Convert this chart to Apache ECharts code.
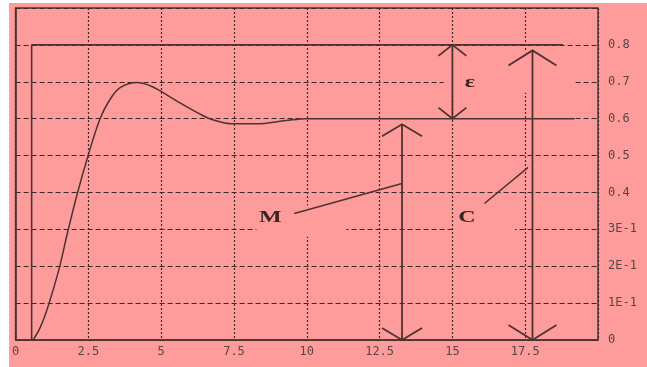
<!DOCTYPE html>
<html>
<head>
<meta charset="utf-8">
<script src="https://cdn.jsdelivr.net/npm/echarts@6/dist/echarts.min.js"></script>
<style>
  html, body { margin: 0; padding: 0; background: #ffffff; }
  #chart { position: absolute; left: 9px; top: 3px; width: 638px; height: 364px; background: #fe9c9c; }
</style>
</head>
<body>
<div id="chart"></div>
<script>
// Step input: jumps to 0.8 shortly after t = 0
const stepT = [0.55, 0.55, 18.8];
const stepV = [0, 0.8, 0.8];

// Step response: overshoot near t = 4, settles at 0.6
const respT = [0.6, 0.85, 1.13, 1.5, 1.78, 2.12, 2.49, 2.9, 3.24, 3.59, 4.17, 4.6, 4.95, 5.64, 6.32, 6.77, 7.45, 8.27, 9.29, 9.97, 19.2];
const respV = [0, 0.035, 0.095, 0.195, 0.29, 0.397, 0.5, 0.6, 0.652, 0.684, 0.698, 0.69, 0.676, 0.643, 0.613, 0.597, 0.586, 0.586, 0.595, 0.6, 0.6];

// Double-headed arrows: ε (error), M (measured output), C (command)
const arrowX = [15, 13.27, 17.75];
const arrowFrom = [0.6, 0, 0];
const arrowTo = [0.8, 0.585, 0.785];

// Leader lines from the letters to the arrows
const leaderT1 = [9.57, 16.1];
const leaderV1 = [0.343, 0.37];
const leaderT2 = [13.27, 17.6];
const leaderV2 = [0.424, 0.468];

// Letters and their positions
const labelText = ['M', 'C', 'ε'];
const labelT = [8.75, 15.5, 15.6];
const labelV = [0.33, 0.33, 0.697];

// Clear areas behind the letters: [t0, t1, v0, v1]
const clearT0 = [8.27, 15.1, 14.7];
const clearT1 = [11.35, 17.15, 19.2];
const clearV0 = [0.28, 0.28, 0.67];
const clearV1 = [0.365, 0.365, 0.78];

// Tick labels
const xTicks = ['0', '2.5', '5', '7.5', '10', '12.5', '15', '17.5', ''];
const yTicks = ['0', '1E-1', '2E-1', '3E-1', '0.4', '0.5', '0.6', '0.7', '0.8', ''];

const PINK = '#fe9c9c';
const INK = '#4e3232';
// Arrowhead half-width / height in px for each arrow
const headStyle = [
  { w: 14, h: 11 },
  { w: 20, h: 12 },
  { w: 24, h: 15 }
];

const zip = (a, b) => a.map((v, i) => [v, b[i]]);

const chart = echarts.init(document.getElementById('chart'), null, { renderer: 'canvas' });

chart.setOption({
  animation: false,
  backgroundColor: PINK,
  grid: {
    left: 6, right: 49, top: 5, bottom: 27,
    show: true, borderColor: INK, borderWidth: 1.5, backgroundColor: 'transparent'
  },
  xAxis: {
    type: 'value', min: 0, max: 20, interval: 2.5,
    axisLine: { show: true, lineStyle: { color: INK, width: 1.5 } },
    axisTick: { show: false },
    axisLabel: {
      color: '#5a4444', fontFamily: 'DejaVu Sans Mono', fontSize: 12, margin: 6,
      formatter: v => xTicks[Math.round(v / 2.5)]
    },
    splitLine: { show: true, lineStyle: { color: '#3a2a2a', width: 1.2, type: [2, 2] } }
  },
  yAxis: {
    type: 'value', position: 'right', min: 0, max: 0.9, interval: 0.1,
    axisLine: { show: true, lineStyle: { color: INK, width: 1.5 } },
    axisTick: { show: false },
    axisLabel: {
      color: '#5a4444', fontFamily: 'DejaVu Sans Mono', fontSize: 12, margin: 10,
      formatter: v => yTicks[Math.round(v * 10)]
    },
    splitLine: { show: true, lineStyle: { color: '#3a2a2a', width: 1.2, type: [5, 3] } }
  },
  series: [
    {
      // pink patches behind the letters
      type: 'custom', z: 2, silent: true,
      data: clearT0.map((t, i) => [t, clearT1[i], clearV0[i], clearV1[i]]),
      renderItem: (params, api) => {
        const a = api.coord([api.value(0), api.value(3)]);
        const b = api.coord([api.value(1), api.value(2)]);
        return { type: 'rect', shape: { x: a[0], y: a[1], width: b[0] - a[0], height: b[1] - a[1] }, style: { fill: PINK } };
      }
    },
    {
      type: 'line', z: 4, data: zip(stepT, stepV), symbol: 'none',
      lineStyle: { color: INK, width: 1.6 }
    },
    {
      type: 'line', z: 4, data: zip(respT, respV), symbol: 'none', smooth: 0.35,
      lineStyle: { color: INK, width: 1.5 }
    },
    {
      // arrows
      type: 'custom', z: 5, silent: true,
      data: arrowX.map((x, i) => [x, arrowFrom[i], arrowTo[i]]),
      renderItem: (params, api) => {
        const hs = headStyle[params.dataIndex];
        const p0 = api.coord([api.value(0), api.value(1)]);
        const p1 = api.coord([api.value(0), api.value(2)]);
        const st = { stroke: INK, lineWidth: 1.8, fill: null };
        return {
          type: 'group',
          children: [
            { type: 'line', shape: { x1: p0[0], y1: p0[1], x2: p1[0], y2: p1[1] }, style: st },
            { type: 'polyline', shape: { points: [[p1[0] - hs.w, p1[1] + hs.h], [p1[0], p1[1]], [p1[0] + hs.w, p1[1] + hs.h]] }, style: st },
            { type: 'polyline', shape: { points: [[p0[0] - hs.w, p0[1] - hs.h], [p0[0], p0[1]], [p0[0] + hs.w, p0[1] - hs.h]] }, style: st }
          ]
        };
      }
    },
    {
      // leader lines
      type: 'custom', z: 5, silent: true,
      data: leaderT1.map((t, i) => [t, leaderV1[i], leaderT2[i], leaderV2[i]]),
      renderItem: (params, api) => {
        const a = api.coord([api.value(0), api.value(1)]);
        const b = api.coord([api.value(2), api.value(3)]);
        return { type: 'line', shape: { x1: a[0], y1: a[1], x2: b[0], y2: b[1] }, style: { stroke: INK, lineWidth: 1.5 } };
      }
    },
    {
      // letters
      type: 'custom', z: 6, silent: true,
      data: labelT.map((t, i) => [t, labelV[i]]),
      renderItem: (params, api) => {
        const p = api.coord([api.value(0), api.value(1)]);
        return {
          type: 'text', x: p[0], y: p[1], scaleX: 1.5,
          style: {
            text: labelText[params.dataIndex], fill: '#3a2424',
            font: 'bold 16px "Liberation Serif"', align: 'center', verticalAlign: 'middle'
          }
        };
      }
    }
  ]
});
</script>
</body>
</html>
